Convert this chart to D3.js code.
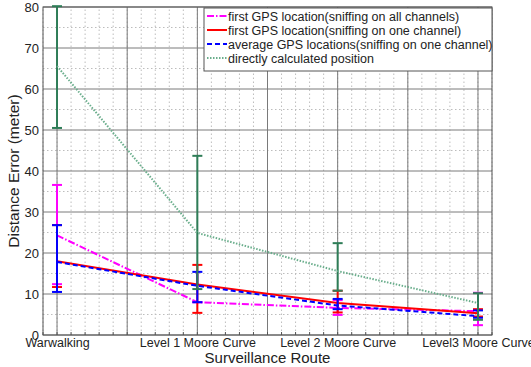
<!DOCTYPE html>
<html>
<head>
<meta charset="utf-8">
<script src="https://cdn.jsdelivr.net/npm/d3@7"></script>
<style>
  body { margin: 0; background: #fff; }
  text { font-family: "Liberation Sans", Arial, sans-serif; fill: #222; }
</style>
</head>
<body>
<div id="viz"></div>
<script>
const categories = ['Warwalking', 'Level 1 Moore Curve', 'Level 2 Moore Curve', 'Level3 Moore Curve'];
const seriesNames = [
  'first GPS location(sniffing on all channels)',
  'first GPS location(sniffing on one channel)',
  'average GPS locations(sniffing on one channel)',
  'directly calculated position'
];
const allChMean = [24.3, 8.0, 6.6, 5.8];
const allChLow = [12.4, 8.0, 4.9, 2.4];
const allChHigh = [36.6, 8.0, 8.5, 10.3];
const oneChMean = [18.0, 12.3, 7.8, 5.3];
const oneChLow = [11.7, 5.4, 5.5, 4.5];
const oneChHigh = [26.8, 17.1, 10.8, 6.3];
const avgMean = [17.8, 12.0, 7.2, 4.6];
const avgLow = [10.5, 8.0, 6.3, 4.2];
const avgHigh = [26.8, 15.4, 8.8, 6.0];
const directMean = [65.6, 24.9, 15.6, 7.8];
const directLow = [50.5, 11.2, 10.8, 3.7];
const directHigh = [80.2, 43.7, 22.4, 10.2];
const yTicks = [0, 10, 20, 30, 40, 50, 60, 70, 80];

const width = 531;
const height = 367;
const margin = {top: 7, right: 39, bottom: 32, left: 43};

const series = [
  {name: seriesNames[0], mean: allChMean, lo: allChLow, hi: allChHigh, color: '#ff00ff', dash: '7,2,1.5,2', lineColor: '#ff00ff'},
  {name: seriesNames[1], mean: oneChMean, lo: oneChLow, hi: oneChHigh, color: '#ff0000', dash: null, lineColor: '#ff0000'},
  {name: seriesNames[2], mean: avgMean, lo: avgLow, hi: avgHigh, color: '#0000ff', dash: '5,3', lineColor: '#0000ff'},
  {name: seriesNames[3], mean: directMean, lo: directLow, hi: directHigh, color: '#2e7d57', dash: '1.5,1.5', lineColor: '#6aae8c'}
];

const x = d3.scaleLinear()
  .domain([0.9, 4.1])
  .range([margin.left, width - margin.right]);
const y = d3.scaleLinear()
  .domain([0, 80])
  .range([height - margin.bottom, margin.top]);

const svg = d3.select('#viz')
  .append('svg')
    .attr('width', width)
    .attr('height', height);

// grid
const grid = svg.append('g').attr('class', 'grid');
grid.selectAll('.minor-x')
  .data(d3.range(9, 42).map(d => d / 10))
  .join('line')
    .attr('x1', d => x(d)).attr('x2', d => x(d))
    .attr('y1', y(0)).attr('y2', y(80))
    .attr('stroke', '#bdbdbd').attr('stroke-dasharray', '1.5,2.5');
grid.selectAll('.minor-y')
  .data(d3.range(5, 80, 10))
  .join('line')
    .attr('x1', x(0.9)).attr('x2', x(4.1))
    .attr('y1', d => y(d)).attr('y2', d => y(d))
    .attr('stroke', '#bdbdbd').attr('stroke-dasharray', '1.5,2.5');
grid.selectAll('.major-x')
  .data(d3.range(1, 4.01, 0.5))
  .join('line')
    .attr('x1', d => x(d)).attr('x2', d => x(d))
    .attr('y1', y(0)).attr('y2', y(80))
    .attr('stroke', '#7a7a7a');
grid.selectAll('.major-y')
  .data(yTicks)
  .join('line')
    .attr('x1', x(0.9)).attr('x2', x(4.1))
    .attr('y1', d => y(d)).attr('y2', d => y(d))
    .attr('stroke', '#7a7a7a');

// axes
const yAxis = svg.append('g')
  .attr('transform', `translate(${margin.left},0)`)
  .call(d3.axisLeft(y).tickValues(yTicks).tickSize(0).tickPadding(4));
yAxis.select('.domain').remove();
yAxis.selectAll('text').style('font-size', '13px').attr('fill', '#222');

const xAxis = svg.append('g')
  .attr('transform', `translate(0,${height - margin.bottom})`)
  .call(d3.axisBottom(x).tickValues([1, 2, 3, 4]).tickFormat((d, i) => categories[i]).tickSize(0).tickPadding(3));
xAxis.select('.domain').remove();
xAxis.selectAll('text').style('font-size', '12.5px').attr('fill', '#222');

// small inward ticks on bottom axis
svg.append('g').selectAll('line')
  .data(d3.range(9, 42).map(d => d / 10))
  .join('line')
    .attr('x1', d => x(d)).attr('x2', d => x(d))
    .attr('y1', y(0)).attr('y2', y(0) - 3)
    .attr('stroke', '#555');

// frame
svg.append('rect')
  .attr('x', x(0.9)).attr('y', y(80))
  .attr('width', x(4.1) - x(0.9)).attr('height', y(0) - y(80))
  .attr('fill', 'none').attr('stroke', '#555');

// error bars and lines, in drawing order
const line = d3.line().x((d, i) => x(i + 1)).y(d => y(d));
const cap = 5;
series.forEach(s => {
  const g = svg.append('g').attr('class', 'series');
  s.mean.forEach((m, i) => {
    const cx = x(i + 1);
    g.append('line')
      .attr('x1', cx).attr('x2', cx)
      .attr('y1', y(s.lo[i])).attr('y2', y(s.hi[i]))
      .attr('stroke', s.color).attr('stroke-width', 2);
    [s.lo[i], s.hi[i]].forEach(v => {
      g.append('line')
        .attr('x1', cx - cap).attr('x2', cx + cap)
        .attr('y1', y(v)).attr('y2', y(v))
        .attr('stroke', s.color).attr('stroke-width', 2);
    });
  });
  g.append('path')
    .attr('d', line(s.mean))
    .attr('fill', 'none')
    .attr('stroke', s.lineColor)
    .attr('stroke-width', 2)
    .attr('stroke-dasharray', s.dash);
});

// axis titles
svg.append('text')
  .attr('x', (x(0.9) + x(4.1)) / 2)
  .attr('y', 363)
  .attr('text-anchor', 'middle')
  .style('font-size', '15px')
  .text('Surveillance Route');
svg.append('text')
  .attr('transform', `translate(19,${(y(0) + y(80)) / 2}) rotate(-90)`)
  .attr('text-anchor', 'middle')
  .style('font-size', '15.5px')
  .text('Distance Error (meter)');

// legend
const legend = svg.append('g').attr('transform', 'translate(204,8)');
legend.append('rect')
  .attr('width', 288).attr('height', 63)
  .attr('fill', '#fff').attr('stroke', '#555');
series.forEach((s, i) => {
  const ly = 8 + i * 14;
  legend.append('line')
    .attr('x1', 3).attr('x2', 23)
    .attr('y1', ly).attr('y2', ly)
    .attr('stroke', s.lineColor).attr('stroke-width', 2)
    .attr('stroke-dasharray', s.dash);
  legend.append('text')
    .attr('x', 24).attr('y', ly + 4.5)
    .style('font-size', '12.5px')
    .text(s.name);
});
</script>
</body>
</html>
